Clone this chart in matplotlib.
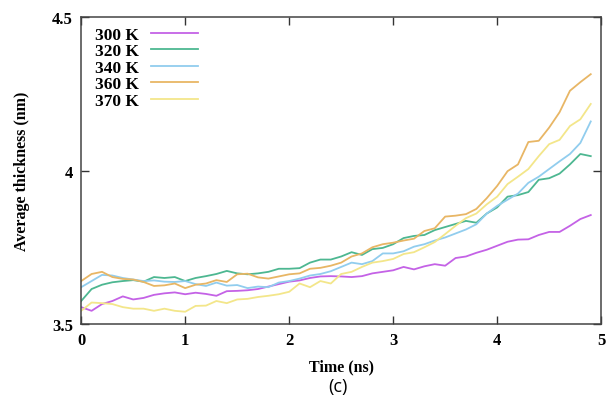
import numpy as np
import matplotlib
matplotlib.use("Agg")
import matplotlib.pyplot as plt

time_ns = [round(0.1 * i, 1) for i in range(50)]

t300 = [3.555, 3.543, 3.565, 3.575, 3.590, 3.580, 3.585, 3.595, 3.600, 3.603,
        3.597, 3.602, 3.598, 3.592, 3.607, 3.608, 3.610, 3.614, 3.622, 3.630,
        3.638, 3.642, 3.650, 3.655, 3.656, 3.655, 3.653, 3.656, 3.665, 3.670,
        3.675, 3.686, 3.678, 3.688, 3.695, 3.690, 3.715, 3.720, 3.732, 3.742,
        3.755, 3.768, 3.775, 3.776, 3.790, 3.800, 3.800, 3.820, 3.842, 3.855]

t320 = [3.575, 3.614, 3.628, 3.636, 3.640, 3.643, 3.638, 3.653, 3.650, 3.653,
        3.640, 3.650, 3.656, 3.663, 3.673, 3.665, 3.662, 3.665, 3.670, 3.680,
        3.680, 3.682, 3.700, 3.710, 3.710, 3.720, 3.734, 3.725, 3.744, 3.748,
        3.760, 3.780, 3.787, 3.790, 3.806, 3.816, 3.826, 3.836, 3.830, 3.860,
        3.880, 3.915, 3.920, 3.930, 3.970, 3.975, 3.990, 4.020, 4.054, 4.047]

t340 = [3.620, 3.640, 3.660, 3.658, 3.650, 3.645, 3.640, 3.642, 3.638, 3.637,
        3.640, 3.630, 3.624, 3.635, 3.625, 3.627, 3.617, 3.622, 3.620, 3.635,
        3.640, 3.648, 3.658, 3.663, 3.672, 3.686, 3.700, 3.695, 3.705, 3.730,
        3.730, 3.737, 3.752, 3.760, 3.772, 3.782, 3.795, 3.808, 3.825, 3.860,
        3.885, 3.905, 3.925, 3.960, 3.980, 4.005, 4.030, 4.054, 4.090, 4.160]

t360 = [3.640, 3.663, 3.670, 3.653, 3.647, 3.645, 3.637, 3.624, 3.626, 3.632,
        3.617, 3.628, 3.632, 3.643, 3.637, 3.662, 3.664, 3.652, 3.648, 3.655,
        3.662, 3.665, 3.680, 3.683, 3.690, 3.700, 3.720, 3.730, 3.750, 3.760,
        3.765, 3.772, 3.778, 3.803, 3.812, 3.850, 3.853, 3.858, 3.875, 3.910,
        3.950, 3.998, 4.020, 4.093, 4.097, 4.140, 4.190, 4.260, 4.288, 4.314]

t370 = [3.543, 3.570, 3.568, 3.565, 3.555, 3.550, 3.550, 3.543, 3.550, 3.543,
        3.540, 3.559, 3.560, 3.575, 3.568, 3.580, 3.582, 3.588, 3.592, 3.597,
        3.605, 3.632, 3.620, 3.640, 3.632, 3.663, 3.670, 3.686, 3.700, 3.705,
        3.712, 3.728, 3.734, 3.750, 3.767, 3.793, 3.820, 3.845, 3.860, 3.890,
        3.915, 3.956, 3.980, 4.005, 4.047, 4.086, 4.100, 4.145, 4.167, 4.217]

labels = ["300 K", "320 K", "340 K", "360 K", "370 K"]
series = [t300, t320, t340, t360, t370]
colors = ["#c462e6", "#4db791", "#91cdee", "#e8b665", "#f3e68a"]

x_ticks = [0, 1, 2, 3, 4, 5]
y_ticks = [3.5, 4, 4.5]
y_ticklabels = ["3.5", "4", "4.5"]

serif = ["Liberation Serif", "DejaVu Serif"]

fig = plt.figure(figsize=(6.06, 4.02), dpi=100)
ax = fig.add_axes([0.134, 0.1915, 0.858, 0.7635])

for y, lab, c in zip(series, labels, colors):
    ax.plot(time_ns, y, color=c, lw=1.3, label=lab)

ax.set_xlim(0, 5)
ax.set_ylim(3.5, 4.5)
ax.set_xticks(x_ticks)
ax.set_yticks(y_ticks)
ax.set_xticklabels([str(v) for v in x_ticks], fontfamily=serif, fontweight="bold", fontsize=12)
ax.set_yticklabels(y_ticklabels, fontfamily=serif, fontweight="bold", fontsize=12)
ax.tick_params(direction="in", length=6, width=1, top=True, right=True,
               color="#333333", pad=6)
for s in ax.spines.values():
    s.set_color("#444444")
    s.set_linewidth(1.1)

ax.set_xlabel("Time (ns)", fontfamily=serif, fontweight="bold", fontsize=11.5, labelpad=7)
ax.set_ylabel("Average thickness (nm)", fontfamily=serif, fontweight="bold", fontsize=11.5, labelpad=16)

leg = ax.legend(loc="upper left", frameon=False, markerfirst=False,
                prop={"family": serif, "weight": "bold", "size": 12.5},
                handlelength=2.7, labelspacing=0.02, borderaxespad=0.25,
                handletextpad=0.7, borderpad=0.3,
                bbox_to_anchor=(0.008, 1.0))

fig.text(0.558, 0.037, "(c)", fontfamily=["Open Sans", "DejaVu Sans"], fontsize=13,
         ha="center", va="center")

fig.savefig("out.png", dpi=100)
